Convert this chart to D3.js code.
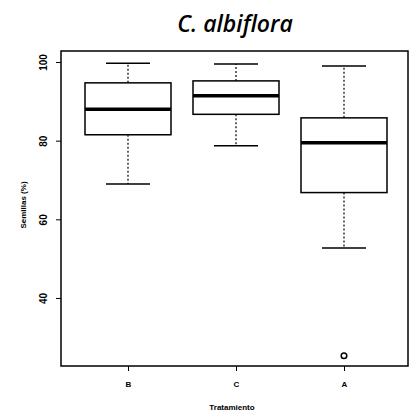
<!DOCTYPE html>
<html>
<head>
<meta charset="utf-8">
<script src="https://cdn.jsdelivr.net/npm/d3@7"></script>
<style>
  body { margin: 0; background: #fff; }
  svg { display: block; }
</style>
</head>
<body>
<div id="chart"></div>
<script>
// === DONNÉES ===
const categories = ["B", "C", "A"];
const whiskerLow = [69, 78.7, 52.7];
const q1 = [81.5, 86.7, 66.8];
const median = [88, 91.4, 79.5];
const q3 = [94.7, 95.2, 85.8];
const whiskerHigh = [99.7, 99.5, 99];
const outliers = [{ cat: "A", value: 25.3 }];
const yTicks = [40, 60, 80, 100];

// === CONFIGURATION ===
const W = 411, H = 418;
const plot = { left: 61, right: 408, top: 51, bottom: 366 };

const svg = d3.select("#chart").append("svg")
  .attr("width", W)
  .attr("height", H);

const data = categories.map((c, i) => ({
  cat: c, lo: whiskerLow[i], q1: q1[i], med: median[i], q3: q3[i], hi: whiskerHigh[i]
}));

const x = d3.scalePoint()
  .domain(categories)
  .range([128, 344]);

const y = d3.scaleLinear()
  .domain([22.7, 102.8])
  .range([plot.bottom, plot.top]);

const boxW = 86;
const capW = 44;

// titre
svg.append("text")
  .attr("x", 235)
  .attr("y", 32)
  .attr("text-anchor", "middle")
  .style("font-family", "'Open Sans', sans-serif")
  .style("font-style", "italic")
  .style("font-weight", "600")
  .style("font-size", "23px")
  .text("C. albiflora");

// cadre
svg.append("rect")
  .attr("x", plot.left)
  .attr("y", plot.top)
  .attr("width", plot.right - plot.left)
  .attr("height", plot.bottom - plot.top)
  .attr("fill", "none")
  .attr("stroke", "#000")
  .attr("stroke-width", 1.5);

// axe Y
const yAxis = svg.append("g")
  .attr("transform", `translate(${plot.left},0)`)
  .call(d3.axisLeft(y).tickValues(yTicks).tickSize(5).tickSizeOuter(0));
yAxis.select(".domain").remove();
yAxis.selectAll("line").attr("stroke", "#000");
// labels rotatés (style R)
yAxis.selectAll(".tick text")
  .attr("x", null)
  .attr("dy", "0.35em")
  .attr("transform", "translate(-18,0) rotate(-90)")
  .style("text-anchor", "middle")
  .style("font-family", "'Liberation Sans', Arial, sans-serif")
  .style("font-weight", "bold")
  .style("font-size", "10px")
  .attr("fill", "#000");

// axe X
const xAxis = svg.append("g")
  .attr("transform", `translate(0,${plot.bottom})`)
  .call(d3.axisBottom(x).tickSize(5).tickPadding(10));
xAxis.select(".domain").remove();
xAxis.selectAll("line").attr("stroke", "#000");
xAxis.selectAll("text")
  .style("font-family", "'Liberation Sans', Arial, sans-serif")
  .style("font-weight", "bold")
  .style("font-size", "8px")
  .attr("fill", "#000");

// titres des axes
svg.append("text")
  .attr("transform", "translate(23,205) rotate(-90)")
  .attr("text-anchor", "middle")
  .attr("dy", "0.35em")
  .style("font-family", "'Liberation Sans', Arial, sans-serif")
  .style("font-weight", "bold")
  .style("font-size", "8px")
  .text("Semillas (%)");

svg.append("text")
  .attr("x", 232)
  .attr("y", 410)
  .attr("text-anchor", "middle")
  .style("font-family", "'Liberation Sans', Arial, sans-serif")
  .style("font-weight", "bold")
  .style("font-size", "8px")
  .text("Tratamiento");

// === BOÎTES ===
const g = svg.selectAll(".box")
  .data(data)
  .enter()
  .append("g")
  .attr("class", "box");

// moustaches (pointillés)
g.append("line")
  .attr("x1", d => x(d.cat)).attr("x2", d => x(d.cat))
  .attr("y1", d => y(d.q3)).attr("y2", d => y(d.hi))
  .attr("stroke", "#000").attr("stroke-width", 1.2)
  .attr("stroke-dasharray", "2,2");
g.append("line")
  .attr("x1", d => x(d.cat)).attr("x2", d => x(d.cat))
  .attr("y1", d => y(d.q1)).attr("y2", d => y(d.lo))
  .attr("stroke", "#000").attr("stroke-width", 1.2)
  .attr("stroke-dasharray", "2,2");

// extrémités
g.append("line")
  .attr("x1", d => x(d.cat) - capW / 2).attr("x2", d => x(d.cat) + capW / 2)
  .attr("y1", d => y(d.hi)).attr("y2", d => y(d.hi))
  .attr("stroke", "#000").attr("stroke-width", 1.5);
g.append("line")
  .attr("x1", d => x(d.cat) - capW / 2).attr("x2", d => x(d.cat) + capW / 2)
  .attr("y1", d => y(d.lo)).attr("y2", d => y(d.lo))
  .attr("stroke", "#000").attr("stroke-width", 1.5);

// boîte
g.append("rect")
  .attr("x", d => x(d.cat) - boxW / 2)
  .attr("y", d => y(d.q3))
  .attr("width", boxW)
  .attr("height", d => y(d.q1) - y(d.q3))
  .attr("fill", "#fff")
  .attr("stroke", "#000")
  .attr("stroke-width", 1.5);

// médiane
g.append("line")
  .attr("x1", d => x(d.cat) - boxW / 2).attr("x2", d => x(d.cat) + boxW / 2)
  .attr("y1", d => y(d.med)).attr("y2", d => y(d.med))
  .attr("stroke", "#000").attr("stroke-width", 3.5);

// valeurs aberrantes
svg.selectAll(".outlier")
  .data(outliers)
  .enter()
  .append("circle")
  .attr("class", "outlier")
  .attr("cx", d => x(d.cat))
  .attr("cy", d => y(d.value))
  .attr("r", 2.8)
  .attr("fill", "none")
  .attr("stroke", "#000")
  .attr("stroke-width", 1.5);
</script>
</body>
</html>
